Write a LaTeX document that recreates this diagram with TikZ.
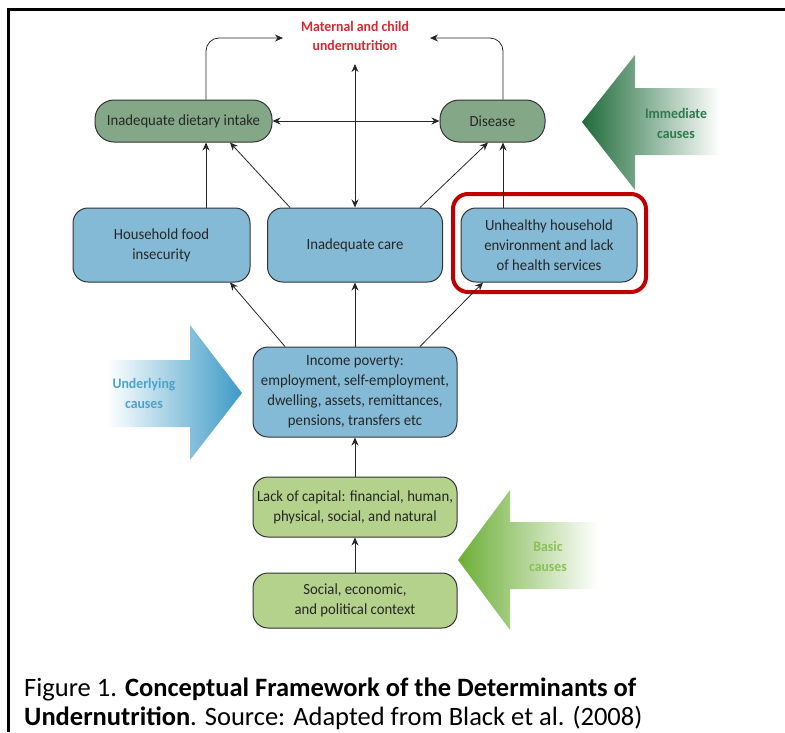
\documentclass[tikz,border=0pt]{standalone}
\usepackage{fontspec}
\setmainfont{Carlito}
\newfontfamily\dfont[FakeStretch=0.95]{Carlito}
\usetikzlibrary{arrows.meta}
\definecolor{imgreen}{HTML}{84A887}
\definecolor{ulblue}{HTML}{84BAD6}
\definecolor{bsgreen}{HTML}{B5D28C}
\definecolor{titred}{HTML}{D42A34}
\definecolor{hlred}{HTML}{C00000}
\definecolor{imarrow}{HTML}{1E6B3A}
\definecolor{imtext}{HTML}{2E7A4C}
\definecolor{ularrow}{HTML}{3D9AC6}
\definecolor{ultext}{HTML}{4AA3CB}
\definecolor{bsarrow}{HTML}{6BAE35}
\definecolor{bstext}{HTML}{8CC157}
\tikzset{
  boxbase/.style={draw=black!80, line width=1pt, align=center, inner sep=2pt,
    font=\dfont\fontsize{15.5}{20}\selectfont, text=black!85},
  imbox/.style={boxbase, fill=imgreen, rounded corners=19pt, minimum height=42pt},
  ulbox/.style={boxbase, fill=ulblue, rounded corners=15pt},
  bsbox/.style={boxbase, fill=bsgreen, rounded corners=15pt, minimum width=204pt},
  arr/.style={-{Stealth[length=8pt,width=7pt]}, line width=0.8pt, black!85},
  darr/.style={{Stealth[length=8pt,width=7pt]}-{Stealth[length=8pt,width=7pt]}, line width=0.8pt, black!85},
  causetext/.style={font=\dfont\bfseries\fontsize{14.5}{20}\selectfont, align=center}
}
\begin{document}
\begin{tikzpicture}[x=1pt,y=-1pt]
\useasboundingbox (0,0) rectangle (785,732);
% frame
\draw[line width=2.5pt] (8.5,732) -- (8.5,9.5) -- (785,9.5);

% big cause arrows
\shade[left color=imarrow, right color=white]
  (582,122) -- (635,55) -- (635,88) -- (720,88) -- (720,155) -- (635,155) -- (635,190) -- cycle;
\node[causetext, text=imtext] (imcause) at (676,123) {Immediate\\causes};

\shade[left color=white, right color=ularrow]
  (107,360) -- (190,360) -- (190,325) -- (242,393) -- (190,460) -- (190,427) -- (107,427) -- cycle;
\node[causetext, text=ultext] (ulcause) at (144,393) {Underlying\\causes};

\shade[left color=bsarrow, right color=white]
  (458,560) -- (510,490) -- (510,522) -- (598,522) -- (598,589) -- (510,589) -- (510,630) -- cycle;
\node[causetext, text=bstext] (bscause) at (548,556) {Basic\\causes};

% title
\node[font=\dfont\bfseries\fontsize{14.5}{19}\selectfont, text=titred, align=center] (title) at (355,36) {Maternal and child\\undernutrition};

% immediate
\node[imbox, minimum width=177pt] (diet) at (183.5,121) {Inadequate dietary intake};
\node[imbox, minimum width=105pt] (disease) at (492.5,121) {Disease};

% underlying
\node[ulbox, minimum width=177pt, minimum height=74pt] (food) at (161.5,245) {Household food\\insecurity};
\node[ulbox, minimum width=175pt, minimum height=74pt] (care) at (355,245) {Inadequate care};
\node[ulbox, minimum width=176pt, minimum height=74pt] (unh) at (549,245) {Unhealthy household\\environment and lack\\of health services};
\node[draw=hlred, line width=4pt, rounded corners=15pt, minimum width=193pt, minimum height=98pt] (hl) at (549.5,243) {};
\node[ulbox, minimum width=204pt, minimum height=90pt] (income) at (355,392) {Income poverty:\\employment, self-employment,\\dwelling, assets, remittances,\\pensions, transfers etc};

% basic
\node[bsbox, minimum height=60pt] (capital) at (355,507) {Lack of capital: financial, human,\\physical, social, and natural};
\node[bsbox, minimum height=55pt] (social) at (355,600.5) {Social, economic,\\and political context};

% connectors
\coordinate (tlend) at (283,38);
\coordinate (trend) at (430,38);
\coordinate (vtop) at (355,64);
\draw[arr, rounded corners=13pt] ([xshift=22.5pt]diet.north) |- (tlend);
\draw[arr, rounded corners=13pt] ([xshift=10.5pt]disease.north) |- (trend);
\draw[darr] (vtop) -- (care.north);
\draw[darr] (diet.east) -- (disease.west);

\draw[arr] ([xshift=44.5pt]food.north) -- ([xshift=22.5pt]diet.south);
\draw[arr] ([xshift=-65pt]care.north) -- ([xshift=46.5pt]diet.south);
\draw[arr] ([xshift=65pt]care.north) -- ([xshift=-4.5pt]disease.south);
\draw[arr] ([xshift=-46pt]unh.north) -- ([xshift=10.5pt]disease.south);

\draw[arr] ([xshift=-70pt]income.north) -- ([xshift=68.5pt]food.south);
\draw[arr] (income.north) -- (care.south);
\draw[arr] ([xshift=65pt]income.north) -- ([xshift=-66pt]unh.south);

\draw[arr] (capital.north) -- (income.south);
\draw[arr] (social.north) -- (capital.south);

% caption
\node[anchor=base west, inner sep=0pt, font=\fontsize{26.5}{27}\selectfont] (cap1) at (24,696) {Figure 1. \textbf{Conceptual Framework of the Determinants of}};
\node[anchor=base west, inner sep=0pt, font=\fontsize{26.5}{27}\selectfont] (cap2) at (24,725) {\textbf{Undernutrition}. Source: Adapted from Black et al. (2008)};
\end{tikzpicture}
\end{document}
